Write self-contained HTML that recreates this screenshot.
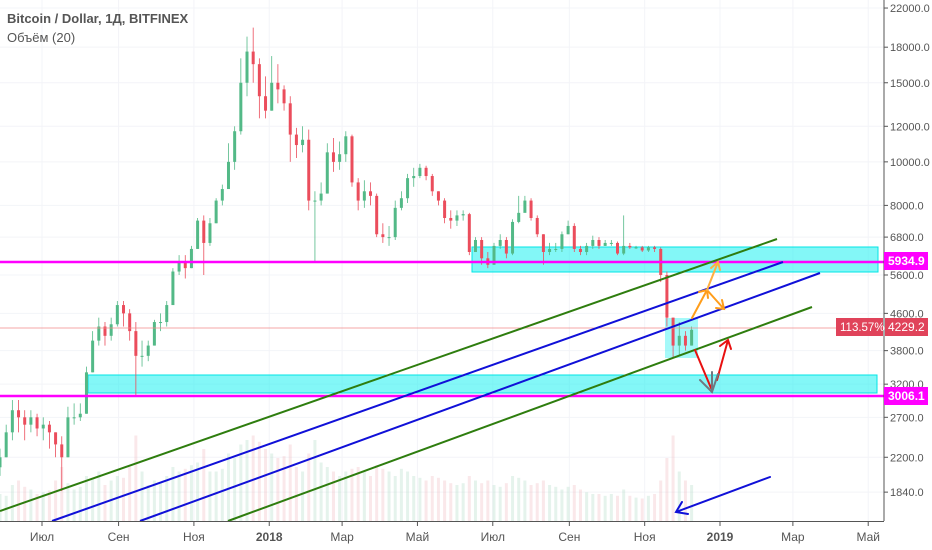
<!DOCTYPE html>
<html><head><meta charset="utf-8"><style>
body{margin:0;background:#fff;font-family:"Liberation Sans","Noto Sans CJK SC",sans-serif}
svg{display:block}
</style></head><body>
<svg id="c" width="932" height="550">
<rect x="0" y="0" width="932" height="550" fill="#fff"/>
<g id="grid"></g><g id="vol"></g>
<g id="boxes">
<rect x="472" y="247" width="406" height="25" fill="#1ef0f0" fill-opacity="0.55" stroke="#00e5e5"/>
<rect x="88" y="375" width="789" height="18" fill="#1ef0f0" fill-opacity="0.55" stroke="#00e5e5"/>
<rect x="665" y="318" width="33" height="40" fill="#1ef0f0" fill-opacity="0.4"/>
</g>
<g id="candles"></g>
<line x1="0" y1="328" x2="884" y2="328" stroke="#f08a8a" stroke-width="0.7"/>
<line x1="0" y1="262" x2="884" y2="262" stroke="#ff00ff" stroke-width="2.5"/>
<line x1="0" y1="396" x2="884" y2="396" stroke="#ff00ff" stroke-width="2.5"/>
<line x1="0" y1="511" x2="777" y2="239" stroke="#2e7d0e" stroke-width="2"/>
<line x1="52" y1="521" x2="783" y2="262" stroke="#1010d8" stroke-width="2"/>
<line x1="140" y1="521" x2="820" y2="273" stroke="#1010d8" stroke-width="2"/>
<line x1="228" y1="521" x2="812" y2="307" stroke="#2e7d0e" stroke-width="2"/>
<g fill="none" stroke-width="2" stroke-linecap="round">
<path d="M692 318 L707 290 M699 292 L707 290 L708 298" stroke="#ff9d1a"/>
<path d="M707 290 L724 309 M716 308 L724 309 L722 300" stroke="#ff9d1a"/>
<path d="M707 290 L718 262 M711 268 L718 262 L720 270" stroke="#ffb040"/>
<path d="M695 350 L711 388" stroke="#e81010"/>
<path d="M717 380 L728 340 M720 346 L728 340 L731 349" stroke="#e81010"/>
<path d="M712 372 L712 392 M700 380 L712 392 L718 374" stroke="#707880"/>
<path d="M770 477 L676 512 M682 502 L676 512 L688 514" stroke="#1010d8"/>
</g>
<line x1="884" y1="0" x2="884" y2="521" stroke="#555" stroke-width="1"/>
<line x1="0" y1="521.5" x2="884" y2="521.5" stroke="#555" stroke-width="1"/>
<g id="yaxis" font-size="11" fill="#555"></g>
<g id="xaxis" font-size="12" fill="#555"></g>
<g><rect x="884" y="252" width="44" height="18" fill="#ff00ff"/><text x="888" y="265" font-size="12" fill="#fff" font-weight="bold">5934.9</text></g>
<g><rect x="884" y="387" width="44" height="18" fill="#ff00ff"/><text x="888" y="400" font-size="12" fill="#fff" font-weight="bold">3006.1</text></g>
<g><rect x="836" y="318" width="47" height="18" fill="#e0435a"/><text x="840" y="331" font-size="11.5" fill="#fff">113.57%</text><rect x="885" y="318" width="43" height="18" fill="#e0435a"/><text x="888" y="331" font-size="12" fill="#fff">4229.2</text></g>
<text x="7" y="23" font-size="13" font-weight="600" fill="#555">Bitcoin / Dollar, 1Д, BITFINEX</text>
<text x="7" y="42" font-size="13" fill="#555">Объём (20)</text>
</svg>
<script>
const closes=[2200,2500,2800,2700,2600,2700,2550,2600,2500,2350,2200,2700,2700,2750,3400,4000,4300,4100,4350,4800,4600,4200,3700,3700,3900,4400,4400,4800,5700,6000,5800,6400,7400,6600,7300,8200,8700,10000,11700,15000,17600,16500,14000,13000,15000,14500,13500,11500,10900,11200,8200,8200,8500,10500,10000,10400,11400,9000,8200,8600,8400,6900,6800,6800,7900,8300,9200,9300,9700,9300,8600,8200,7500,7400,7600,7650,6300,6700,6100,5900,6500,6700,6250,7350,7700,8200,7500,6900,6300,6400,6400,6900,7200,6400,6300,6500,6700,6500,6600,6600,6250,6500,6450,6450,6350,6450,6400,5600,4500,3900,4100,3900,4229];
const lows=[2000,2200,2400,2500,2400,2500,2450,2400,2300,2200,1850,2200,2600,2650,2750,3400,3900,3900,4000,4300,4300,4000,3000,3500,3600,3900,4200,4300,4800,5600,5500,5800,6400,5600,6500,7300,8000,8700,9600,11500,14000,15000,12500,12500,13000,13500,13000,10000,10200,10500,7800,6000,8000,8500,9500,9600,10000,8800,7800,7900,8000,6800,6600,6500,6700,7800,8100,8800,9200,9100,8400,8000,7300,7100,7200,7400,6200,6300,5900,5800,5900,6400,6100,6200,7300,7800,7400,6800,5900,6200,6300,6300,6900,6300,6200,6200,6400,6400,6500,6500,6200,6200,6400,6400,6300,6300,6300,5400,4300,3650,3700,3800,3900];
const highs=[2300,2600,2950,2950,2800,2800,2750,2700,2650,2500,2450,2850,2900,2900,3500,4200,4500,4400,4500,4900,4900,4700,4400,4000,4000,4450,4600,4900,5800,6200,6200,6500,7500,7600,7500,8300,8900,11000,12000,17000,19000,19900,17000,15500,17200,16500,14800,14000,11900,12000,11800,8600,9000,11000,11300,11100,11700,11500,9200,9100,9000,8500,7300,7200,8200,8600,9400,9700,9900,9800,9400,8600,8300,7800,7800,7800,7700,6800,6800,6300,6600,6900,6800,7450,8400,8400,8300,7600,6900,6600,6600,7000,7400,7300,6500,6600,6850,6800,6700,6700,6650,7600,6600,6500,6500,6500,6500,6450,5700,4500,4400,4200,4300];
const vols=[30,28,40,45,38,35,30,32,34,45,60,42,35,38,50,48,55,40,45,50,48,60,95,55,40,45,42,50,60,55,58,62,65,80,55,55,58,75,70,85,90,95,88,80,75,70,72,85,60,55,75,90,65,60,55,50,55,58,60,55,50,62,58,55,50,58,55,50,48,45,50,48,45,42,40,42,50,45,42,45,40,38,42,50,48,45,40,42,45,40,38,35,38,40,35,32,30,30,28,30,28,35,28,26,25,28,30,45,70,95,55,45,40];
const xTicks=["Июл","Сен","Ноя","2018","Мар","Май","Июл","Сен","Ноя","2019","Мар","Май"];
const xTickDays=[0,62,123,184,243,304,365,427,488,549,608,669];
const yTicks=[22000,18000,15000,12000,10000,8000,6800,5600,4600,3800,3200,2700,2200,1840];
const NS="http://www.w3.org/2000/svg";
const xDay=d=>42+d*1.235;
const y=p=>1958.8-195.1*Math.log(p);
function el(t,a,parent){const e=document.createElementNS(NS,t);for(const k in a)e.setAttribute(k,a[k]);document.getElementById(parent).appendChild(e);return e;}
yTicks.forEach(v=>{
 const g=el('line',{x1:0,x2:884,y1:y(v),y2:y(v),stroke:'#f3f4f8'},'grid');
 
 
 const t=el('text',{x:890,y:y(v)+4},'yaxis');t.textContent=v.toFixed(1);
 
 
 const tk=el('line',{x1:884,x2:888,y1:y(v),y2:y(v),stroke:'#555'},'yaxis');
 
 
});
xTicks.forEach((s,i)=>{
 const x=xDay(xTickDays[i]);
 const g=el('line',{x1:x,x2:x,y1:0,y2:521,stroke:'#f3f4f8'},'grid');
 
 
 const tk=el('line',{x1:x,x2:x,y1:521,y2:526,stroke:'#555'},'xaxis');
 
 
 const t=el('text',{x:x,y:541,'text-anchor':'middle','font-weight':/\d/.test(s)?'bold':'normal'},'xaxis');t.textContent=s;
 
 
});
closes.forEach((c,i)=>{
 const o=i?closes[i-1]:c*0.95;
 const x=xDay(-34+i*5);
 const up=c>=o;
 const col=up?'#53b987':'#eb4d5c';
 const vh=vols[i]*0.9;
 const v=el('rect',{x:x-1.5,y:521-vh,width:3,height:vh,fill:up?'#a8d8c0':'#eeb4b8','fill-opacity':0.3},'vol');
 
 
 const w=el('line',{x1:x,x2:x,y1:y(highs[i]),y2:y(lows[i]),stroke:col,'stroke-width':0.8},'candles');
 
 
 const yt=Math.min(y(o),y(c)),h=Math.max(1,Math.abs(y(o)-y(c)));
 const b=el('rect',{x:x-1.5,y:yt,width:3,height:h,fill:col},'candles');
 
 
});
</script>
</body></html>
